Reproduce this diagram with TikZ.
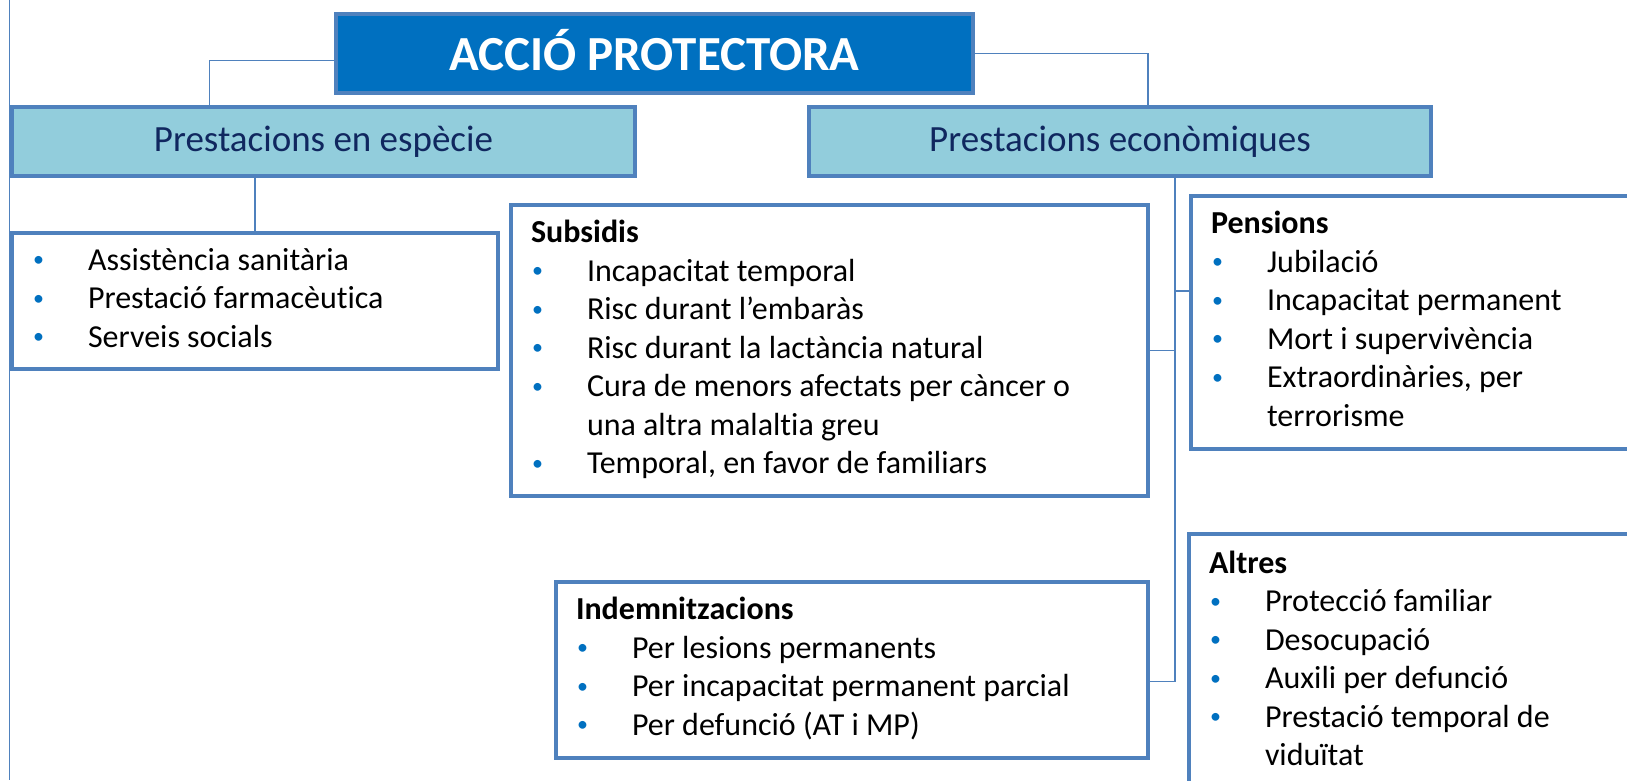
\documentclass[tikz,border=0pt]{standalone}
\usepackage{fontspec}
\setmainfont{Carlito}[Ligatures=NoCommon]

\definecolor{voraBlau}{HTML}{4F81BD}
\definecolor{titolBlau}{HTML}{0070C0}
\definecolor{capBlau}{HTML}{92CDDC}
\definecolor{textMari}{HTML}{10275F}
\def\vinyeta{\makebox[56pt][l]{\hspace{1pt}\raisebox{3.5pt}{\fontsize{22}{22}\selectfont\textcolor{titolBlau}{\textbullet}}}}
\def\sagnat{\hspace*{56pt}}

\begin{document}
\begin{tikzpicture}[x=1pt,y=-1pt,
    caixa/.style={draw=voraBlau, line width=4pt, anchor=north west, inner sep=0pt},
    capsal/.style={caixa, fill=capBlau, text=textMari, font=\fontsize{37}{44}\selectfont},
    llista/.style={caixa, fill=white, inner xsep=20pt, font=\fontsize{32}{38.5}\selectfont},
    lligam/.style={draw=voraBlau, line width=1.5pt}]
    % Define parameters
    \def\xmin{0}
    \def\xmax{1627}
    \def\ymin{0}
    \def\ymax{780}

    \useasboundingbox (\xmin,\ymin) rectangle (\xmax,\ymax);
    \fill[white] (\xmin,\ymin) rectangle (\xmax,\ymax);

    \draw[lligam] (9.5,\ymin) -- (9.5,\ymax);

    \node[caixa, fill=titolBlau, text=white, minimum width=637pt, minimum height=79pt,
        text height=33pt, text depth=0pt,
        font=\fontsize{49}{58}\selectfont\bfseries] (accio) at (334,12) {ACCIÓ PROTECTORA};

    \node[capsal, minimum width=623pt, minimum height=69pt] (especie) at (10,105) {Prestacions en espècie};
    \node[capsal, minimum width=622pt, minimum height=69pt] (economiques) at (807,105) {Prestacions econòmiques};

    \node[llista, minimum height=136pt] (sanitat) at (10,231) {\makebox[446pt][l]{\begin{tabular}{@{}l@{}}
        \vinyeta Assistència sanitària\\
        \vinyeta Prestació farmacèutica\\
        \vinyeta Serveis socials
    \end{tabular}}};

    \node[llista, minimum height=291pt] (subsidis) at (509,203) {\makebox[597pt][l]{\begin{tabular}{@{}l@{}}
        \textbf{Subsidis}\\
        \vinyeta Incapacitat temporal\\
        \vinyeta Risc durant l’embaràs\\
        \vinyeta Risc durant la lactància natural\\
        \vinyeta Cura de menors afectats per càncer o\\
        \sagnat una altra malaltia greu\\
        \vinyeta Temporal, en favor de familiars
    \end{tabular}}};

    \node[llista, minimum height=253pt] (pensions) at (1189,194) {\makebox[431pt][l]{\begin{tabular}{@{}l@{}}
        \textbf{Pensions}\\
        \vinyeta Jubilació\\
        \vinyeta Incapacitat permanent\\
        \vinyeta Mort i supervivència\\
        \vinyeta Extraordinàries, per\\
        \sagnat terrorisme
    \end{tabular}}};

    \node[llista, minimum height=176pt] (indem) at (554,580) {\makebox[552pt][l]{\begin{tabular}{@{}l@{}}
        \textbf{Indemnitzacions}\\
        \vinyeta Per lesions permanents\\
        \vinyeta Per incapacitat permanent parcial\\
        \vinyeta Per defunció (AT i MP)
    \end{tabular}}};

    \node[llista, minimum height=256pt] (altres) at (1187,532) {\makebox[434pt][l]{\begin{tabular}{@{}l@{}}
        \textbf{Altres}\\
        \vinyeta Protecció familiar\\
        \vinyeta Desocupació\\
        \vinyeta Auxili per defunció\\
        \vinyeta Prestació temporal de\\
        \sagnat viduïtat
    \end{tabular}}};

    % connectors
    \draw[lligam] ([yshift=-7pt]accio.west) -| ([xshift=-114pt]especie.north);
    \draw[lligam] (accio.east) -| ([xshift=28pt]economiques.north);

    \coordinate (baixa) at ([xshift=-68.5pt]especie.south);
    \draw[lligam] (baixa) -- (baixa |- sanitat.north);

    \coordinate (tronc) at ([xshift=55pt]economiques.south);
    \coordinate (bpen) at ([yshift=31.5pt]pensions.west);
    \coordinate (bsub) at (subsidis.east);
    \coordinate (bind) at ([yshift=-11.5pt]indem.east);
    \draw[lligam] (tronc) |- (bind);
    \draw[lligam] (bpen -| tronc) -- (bpen);
    \draw[lligam] (bsub) -- (bsub -| tronc);
\end{tikzpicture}
\end{document}
